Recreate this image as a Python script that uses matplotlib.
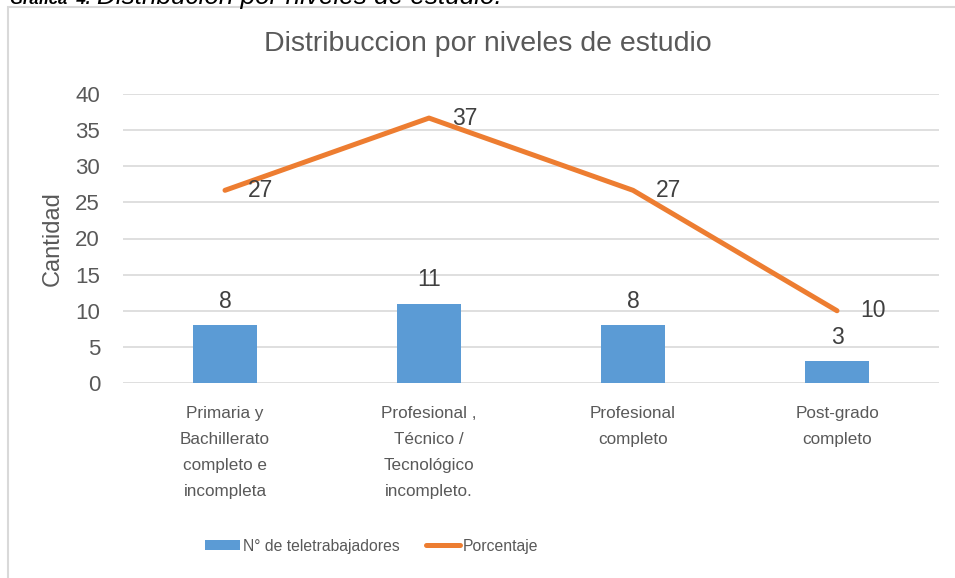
import matplotlib
matplotlib.use('Agg')
import matplotlib.pyplot as plt
from matplotlib import font_manager
from matplotlib.patches import Rectangle, Patch
from matplotlib.lines import Line2D

# Datos
categorias = ['Primaria y\nBachillerato\ncompleto e\nincompleta',
              'Profesional ,\nTécnico /\nTecnológico\nincompleto.',
              'Profesional\ncompleto',
              'Post-grado\ncompleto']
teletrabajadores = [8, 11, 8, 3]
porcentaje = [26.67, 36.67, 26.67, 10.0]
etiquetas_pct = ['27', '37', '27', '10']
yticks = [0, 5, 10, 15, 20, 25, 30, 35, 40]

GRIS = '#595959'
AZUL = '#5b9bd5'
NARANJA = '#ed7d31'

names = {f.name for f in font_manager.fontManager.ttflist}
NARROW = 'Liberation Sans Narrow' in names
plt.rcParams['font.family'] = ['Liberation Sans', 'DejaVu Sans']
fam_narrow = ['Liberation Sans Narrow', 'Liberation Sans'] if NARROW else ['Liberation Sans']
size_cat = 14.5 if NARROW else 12.3
size_leg = 13.8 if NARROW else 11.3

W, H = 955, 578
fig = plt.figure(figsize=(W / 100, H / 100), dpi=100)

# Marco del gráfico
fig.patches.append(Rectangle((8 / W, -0.2), 1.2, 1.2 - 7 / H, transform=fig.transFigure,
                             fill=False, edgecolor='#d9d9d9', linewidth=1.5))

ax = fig.add_axes([123 / W, 1 - 383 / H, 816 / W, 289 / H])
x = list(range(len(categorias)))

ax.bar(x, teletrabajadores, width=0.31, color=AZUL, zorder=2)
ax.plot(x, porcentaje, color=NARANJA, linewidth=3.6, solid_capstyle='round',
        solid_joinstyle='round', zorder=3)

for xi, v in zip(x, teletrabajadores):
    ax.annotate(str(v), (xi, v), xytext=(0, 17), textcoords='offset points',
                ha='center', va='center', fontsize=16.5, color='#404040')
for xi, v, lab in zip(x, porcentaje, etiquetas_pct):
    ax.annotate(lab, (xi, v), xytext=(16.5, 0), textcoords='offset points',
                ha='left', va='center', fontsize=16.5, color='#404040')

ax.set_xlim(-0.5, 3.5)
ax.set_ylim(0, 40)
ax.set_yticks(yticks)
ax.set_yticklabels([str(t) for t in yticks])
ax.set_xticks(x)
ax.set_xticklabels(categorias, fontsize=size_cat, color=GRIS, family=fam_narrow,
                   linespacing=1.92)
ax.tick_params(axis='y', length=0, pad=16.5, labelsize=16, labelcolor=GRIS)
ax.tick_params(axis='x', length=0, pad=16.5)
ax.grid(axis='y', color='#d9d9d9', linewidth=1.2, zorder=0)
ax.set_axisbelow(True)
for s in ax.spines.values():
    s.set_visible(False)

fig.text(53 / W, 1 - 239 / H, 'Cantidad', rotation=90, ha='center', va='center',
         fontsize=17, color=GRIS)
fig.text(488 / W, 1 - 44 / H, 'Distribuccion por niveles de estudio', ha='center',
         va='center', fontsize=20.5, color=GRIS)

# Leyenda
handles = [Patch(facecolor=AZUL, edgecolor='none'),
           Line2D([], [], color=NARANJA, linewidth=3.6, solid_capstyle='round')]
leg = fig.legend(handles, ['N° de teletrabajadores', 'Porcentaje'], ncol=2,
                 loc='center', bbox_to_anchor=(372 / W, 1 - 546 / H), frameon=False,
                 prop={'family': fam_narrow, 'size': size_leg}, handlelength=2.2,
                 handleheight=0.6, handletextpad=0.2, columnspacing=1.65)
for t in leg.get_texts():
    t.set_color(GRIS)

# Pie de gráfica (recortado arriba, como en la imagen)
fig.text(10 / W, 1 - 4 / H, 'Gráfica  4.', ha='left', va='baseline', fontsize=12,
         fontweight='bold', fontstyle='italic', color='black')
fig.text(97 / W, 1 - 4 / H, 'Distribución por niveles de estudio.', ha='left',
         va='baseline', fontsize=18.8, fontstyle='italic', color='black')

fig.savefig('out.png', dpi=100)
